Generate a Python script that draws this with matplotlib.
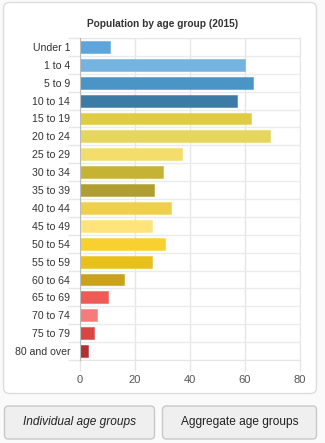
import numpy as np
import matplotlib
matplotlib.use("Agg")
import matplotlib.pyplot as plt
from matplotlib.patches import FancyBboxPatch

plt.rcParams['font.family'] = ['Liberation Sans', 'DejaVu Sans']

age_groups = ["Under 1", "1 to 4", "5 to 9", "10 to 14", "15 to 19", "20 to 24",
              "25 to 29", "30 to 34", "35 to 39", "40 to 44", "45 to 49", "50 to 54",
              "55 to 59", "60 to 64", "65 to 69", "70 to 74", "75 to 79", "80 and over"]
population = [11, 60, 63, 57, 62, 69, 37, 30, 27, 33, 26, 31, 26, 16, 10, 6, 5, 3]
bar_colors = ["#5DA5DA", "#75B3E0", "#4A94C6", "#3C7BA6", "#E0CC40", "#E6D65E",
              "#F3DE6C", "#C6B334", "#B09F30", "#EFD04C", "#FFE47C", "#F8D030",
              "#E8C01C", "#C9A11A", "#F05A56", "#F47C7A", "#D94545", "#B03131"]
x_ticks = [0, 20, 40, 60, 80]
title = "Population by age group (2015)"
buttons = ["Individual age groups", "Aggregate age groups"]

W, H = 325, 443
fig = plt.figure(figsize=(W / 100, H / 100), dpi=100)
fig.patch.set_facecolor("#FAFAFA")

# card and buttons drawn in pixel coords on a background axes
bg = fig.add_axes([0, 0, 1, 1])
bg.set_xlim(0, W)
bg.set_ylim(H, 0)
bg.axis("off")
bg.add_patch(FancyBboxPatch((3.5, 2.5), 313, 391, boxstyle="round,pad=0,rounding_size=6",
                            fc="white", ec="#DDDDDD", lw=1))
bg.text(163, 24, title, ha="center", va="center", fontsize=7.3, fontweight="bold",
        color="#333333")
for (x0, w), (label, style) in zip([(4.5, 150), (162.5, 154)],
                                   zip(buttons, ["italic", "normal"])):
    bg.add_patch(FancyBboxPatch((x0, 406), w, 33, boxstyle="round,pad=0,rounding_size=4",
                                fc="#EFEFEF", ec="#C8C8C8", lw=1))
    bg.text(x0 + w / 2, 422.5, label, ha="center", va="center", fontsize=8.6,
            style=style, color="#222222")

# chart area: x 80..300, y 38..360 px
ax = fig.add_axes([80 / W, 1 - 360 / H, 220 / W, 322 / H])
y = np.arange(len(age_groups))
ax.barh(y, population, height=0.66, color=bar_colors,
        edgecolor=[matplotlib.colors.to_rgba(c, 0.5) for c in bar_colors], linewidth=0.8,
        zorder=3)
ax.set_ylim(len(age_groups) - 0.5, -0.5)
ax.set_xlim(0, 80)
ax.set_xticks(x_ticks)
ax.set_xticklabels([str(t) for t in x_ticks], fontsize=8, color="#555555")
ax.set_yticks(y)
ax.set_yticklabels(age_groups, fontsize=7.6, color="#333333")
ax.set_yticks(np.arange(len(age_groups) + 1) - 0.5, minor=True)
ax.tick_params(axis="y", which="major", length=0, pad=7)
ax.tick_params(axis="y", which="minor", length=9, color="#E6E6E6", width=1)
ax.tick_params(axis="x", length=8, color="#E6E6E6", width=1, pad=3)
ax.grid(axis="x", color="#E6E6E6", lw=1, zorder=0)
ax.grid(axis="y", which="minor", color="#EBEBEB", lw=1, zorder=0)
for s in ["top", "right", "bottom"]:
    ax.spines[s].set_color("#E6E6E6")
ax.spines["left"].set_color("#BBBBBB")
ax.spines["left"].set_zorder(4)

fig.savefig("out.png", dpi=100, facecolor=fig.get_facecolor())
